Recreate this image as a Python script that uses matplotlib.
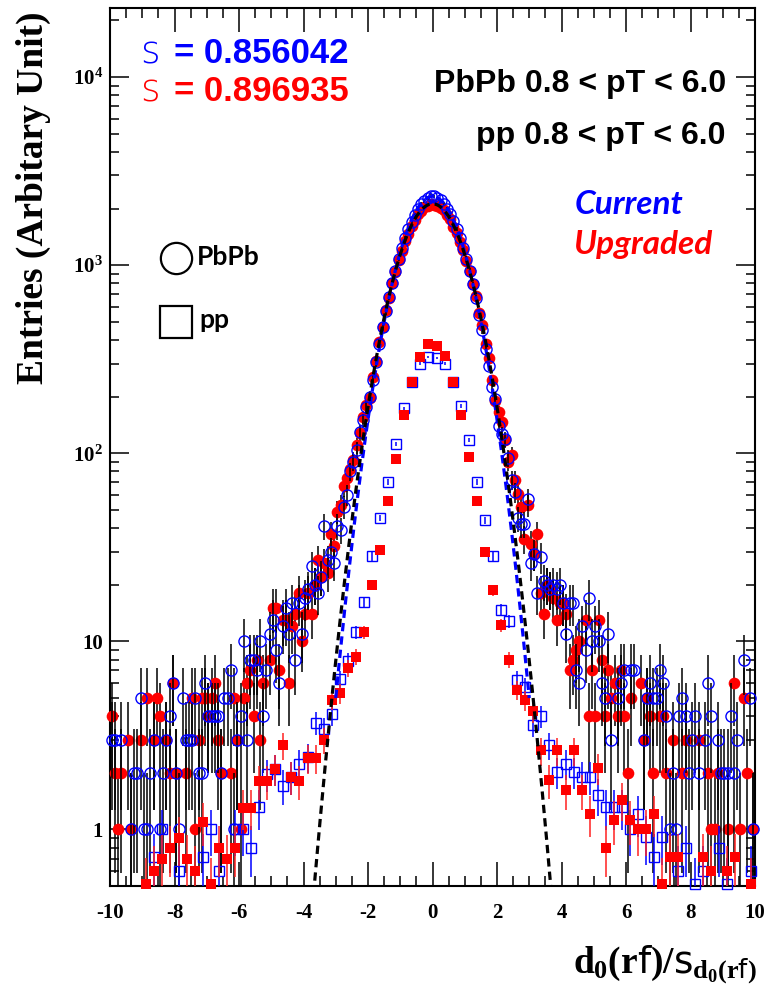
import numpy as np
import matplotlib
matplotlib.use("Agg")
import matplotlib.pyplot as plt
from matplotlib.ticker import FixedLocator, FixedFormatter, MultipleLocator, LogLocator, NullFormatter
from matplotlib.lines import Line2D

plt.rcParams['mathtext.fontset'] = 'custom'
plt.rcParams['mathtext.rm'] = 'Liberation Serif:bold'
plt.rcParams['mathtext.it'] = 'Liberation Serif:bold'
plt.rcParams['mathtext.bf'] = 'Liberation Serif:bold'
plt.rcParams['mathtext.sf'] = 'DejaVu Sans'

# ---------------- data ----------------
x_min, x_max = -10.0, 10.0
pbpb_bin_width = 0.1
pp_bin_width = 0.25

# PbPb, upgraded tracker (red filled circles), 200 bins of 0.1
pbpb_upgraded = [
    4, 2, 1, 2, 0, 3, 1, 0, 0, 3,
    0, 5, 0, 3, 5, 4, 0, 3, 2, 6,
    2, 0, 0, 2, 0, 5, 1, 3, 5, 5,
    4, 5, 6, 3, 2, 0, 0, 2, 5, 3,
    1, 5, 6, 7, 4, 8, 3, 6, 0, 8,
    15, 15, 7, 13, 13, 6, 12, 14, 18, 10,
    14, 18, 14, 20, 27, 22, 26, 23, 37, 32,
    49, 53, 67, 74, 82, 92, 110, 128, 156, 180,
    196, 255, 310, 392, 468, 575, 670, 800, 918, 1065,
    1190, 1350, 1470, 1625, 1730, 1860, 1940, 2030, 2060, 2110,
    2090, 2075, 2010, 1955, 1840, 1750, 1605, 1490, 1330, 1205,
    1050, 930, 790, 685, 560, 480, 380, 320, 245, 190,
    165, 147, 118, 90, 98, 72, 61, 52, 35, 53,
    33, 29, 37, 18, 14, 20, 19, 17, 13, 16,
    16, 14, 7, 8, 9, 10, 0, 13, 4, 7,
    4, 13, 8, 4, 7, 5, 6, 4, 7, 4,
    2, 5, 0, 0, 6, 3, 5, 4, 2, 0,
    4, 4, 2, 0, 3, 0, 0, 2, 3, 0,
    0, 0, 3, 0, 0, 2, 1, 1, 2, 0,
    0, 1, 0, 6, 0, 1, 5, 2, 0, 1,
]

# PbPb, current tracker (blue open circles), 200 bins of 0.1
pbpb_current = [
    3, 3, 0, 3, 0, 0, 1, 2, 2, 5,
    1, 1, 2, 3, 0, 1, 2, 3, 4, 6,
    2, 1, 5, 3, 3, 3, 5, 2, 2, 6,
    4, 4, 4, 4, 2, 5, 5, 7, 1, 3,
    4, 10, 3, 8, 8, 7, 10, 4, 7, 11,
    13, 9, 6, 12, 15, 11, 16, 8, 16, 11,
    17, 19, 25, 20, 18, 22, 41, 27, 30, 26,
    41, 39, 52, 60, 80, 90, 104, 130, 150, 176,
    200, 245, 305, 380, 470, 570, 680, 800, 935, 1080,
    1230, 1390, 1550, 1700, 1850, 1990, 2110, 2200, 2280, 2330,
    2320, 2270, 2210, 2120, 1990, 1860, 1720, 1560, 1400, 1240,
    1080, 935, 790, 665, 545, 450, 360, 290, 225, 195,
    140, 127, 119, 94, 72, 62, 45, 42, 42, 57,
    26, 29, 18, 28, 21, 20, 19, 20, 19, 20,
    16, 11, 16, 16, 7, 6, 12, 9, 17, 10,
    12, 10, 6, 5, 11, 3, 0, 5, 6, 7,
    0, 7, 7, 0, 0, 3, 5, 6, 5, 5,
    7, 6, 4, 1, 2, 1, 4, 5, 4, 2,
    3, 4, 2, 0, 3, 6, 4, 0, 3, 2,
    2, 2, 4, 2, 3, 0, 8, 0, 5, 1,
]

# pp, upgraded (red filled squares), 80 bins of 0.25
pp_upgraded = [
    0, 0, 0, 0, 0.51, 0.60, 0.70, 0.80, 0.90, 0.70,
    0.60, 1.10, 0.51, 0.80, 0.70, 0.80, 1.30, 1.30, 1.80, 1.80,
    2.10, 2.80, 1.90, 1.80, 2.40, 2.40, 3.0, 4.9, 5.3, 7.2,
    8.3, 11.2, 19.9, 30.5, 55.6, 93.7, 159, 240, 325, 383,
    372, 330, 240, 159, 96, 56, 29.8, 18.7, 12.2, 8.0,
    5.5, 4.85, 4.25, 2.63, 1.82, 2.63, 1.61, 2.63, 1.61, 1.21,
    2.13, 0.80, 1.12, 1.43, 1.12, 1.0, 1.0, 1.21, 0.51, 0.71,
    0.71, 0, 0, 0.71, 0.60, 0, 0.60, 0.71, 0, 0.51,
]

# pp, current (blue open squares), 80 bins of 0.25
pp_current = [
    0, 0, 0, 0, 0, 0.71, 1.0, 0, 0.60, 0,
    0, 0.71, 1.0, 0.60, 0, 1.0, 1.0, 0.80, 1.31, 1.96,
    2.1, 1.71, 1.9, 2.24, 2.42, 3.7, 3.4, 4.1, 6.3, 7.9,
    11.2, 16.2, 28.3, 45.3, 70.3, 111.6, 173, 239, 300, 325,
    320, 300, 239, 178, 118, 70.3, 44, 28.3, 14.7, 12.8,
    6.25, 5.7, 3.6, 4.0, 2.8, 2.02, 2.24, 2.02, 1.9, 1.9,
    1.52, 1.31, 1.31, 1.31, 1.0, 1.21, 0.91, 0.71, 0.91, 0,
    0.60, 0.80, 0.51, 0.60, 0, 0.80, 0.51, 0, 0, 0.60,
]

# Gaussian fit results
fit_sigma_current = 0.856042
fit_sigma_upgraded = 0.896935
fit_amp_current = 2320
fit_amp_upgraded = 2120
fit_range_current = 3.0
pp_count_scale = 0.075   # pp histogram was scaled; error = sqrt(value * scale)

x_ticks = [-10, -8, -6, -4, -2, 0, 2, 4, 6, 8, 10]
x_tick_labels = ['-10', '-8', '-6', '-4', '-2', '0', '2', '4', '6', '8', '10']
y_ticks = [1, 10, 100, 1000, 10000]
y_tick_labels = ['1', '10', r'$10^{2}\ \,$', r'$10^{3}\ \,$', r'$10^{4}\ \,$']

# ---------------- figure ----------------
W, H = 765, 1000
fig = plt.figure(figsize=(W / 100, H / 100), dpi=100)
ax = fig.add_axes([110 / W, 1 - 886 / H, 645 / W, 878 / H])
ax.set_yscale('log')
ax.set_xlim(x_min, x_max)
ax.set_ylim(0.5, 23300)


def centers(n, width):
    return x_min + width * (np.arange(n) + 0.5)


def draw_series(vals, width, color, marker, filled, ms, err_color, err_mode, z):
    v = np.asarray(vals, dtype=float)
    x = centers(len(v), width)
    m = v > 0
    x, v = x[m], v[m]
    if err_mode == 'poisson':
        e = np.sqrt(v)
    else:
        e = np.sqrt(v * pp_count_scale)
    lo = np.maximum(v - e, 0.3)
    hi = v + e
    ax.vlines(x, lo, hi, colors=err_color, linewidth=1.1, zorder=z - 0.5)
    if filled:
        ax.plot(x, v, ls='none', marker=marker, ms=ms, mfc=color, mec=color,
                mew=0.0, zorder=z, clip_on=False)
    else:
        ax.plot(x, v, ls='none', marker=marker, ms=ms, mfc='none', mec=color,
                mew=1.0, zorder=z, clip_on=False)


draw_series(pbpb_upgraded, pbpb_bin_width, 'red', 'o', True, 8.4, 'black', 'poisson', 3)
draw_series(pbpb_current, pbpb_bin_width, 'blue', 'o', False, 8.0, 'black', 'poisson', 4)
draw_series(pp_current, pp_bin_width, 'blue', 's', False, 7.2, 'blue', 'scaled', 5)
draw_series(pp_upgraded, pp_bin_width, 'red', 's', True, 7.4, '#ff2020', 'scaled', 6)

# Gaussian fit curves
xf = np.linspace(x_min, x_max, 4001)
xc = xf[np.abs(xf) <= fit_range_current]
ax.plot(xc, fit_amp_current * np.exp(-xc ** 2 / (2 * fit_sigma_current ** 2)),
        color='blue', lw=2.3, ls=(0, (2.6, 1.6)), zorder=7)
ax.plot(xf, fit_amp_upgraded * np.exp(-xf ** 2 / (2 * fit_sigma_upgraded ** 2)),
        color='black', lw=2.3, ls=(0, (2.6, 1.6)), zorder=8)

# ---------------- axes styling ----------------
for s in ax.spines.values():
    s.set_linewidth(1.5)
ax.xaxis.set_major_locator(FixedLocator(x_ticks))
ax.xaxis.set_major_formatter(FixedFormatter(x_tick_labels))
ax.xaxis.set_minor_locator(MultipleLocator(0.5))
ax.yaxis.set_major_locator(FixedLocator(y_ticks))
ax.yaxis.set_major_formatter(FixedFormatter(y_tick_labels))
ax.yaxis.set_minor_locator(LogLocator(base=10, subs=np.arange(2, 10)))
ax.yaxis.set_minor_formatter(NullFormatter())
ax.tick_params(which='both', direction='in', top=True, right=True, width=1.1)
ax.tick_params(axis='x', which='major', length=17, pad=12)
ax.tick_params(axis='x', which='minor', length=7.5)
ax.tick_params(axis='y', which='major', length=13.5, pad=5)
ax.tick_params(axis='y', which='minor', length=6.5)
for lab in ax.get_xticklabels() + ax.get_yticklabels():
    lab.set_fontfamily('Liberation Serif')
    lab.set_fontweight('bold')
    lab.set_fontsize(15)


def T(px, py, s, **kw):
    fig.text(px / W, 1 - py / H, s, **kw)


# sigma values
T(140, 63, 's', color='blue', fontsize=27, family='DejaVu Sans', weight='light', va='baseline')
T(174, 63, '= 0.856042', color='blue', fontsize=25, family='Liberation Sans', weight='bold', va='baseline')
T(140, 101, 's', color='red', fontsize=27, family='DejaVu Sans', weight='light', va='baseline')
T(174, 101, '= 0.896935', color='red', fontsize=25, family='Liberation Sans', weight='bold', va='baseline')

# kinematic ranges
T(726, 92, 'PbPb 0.8 < pT < 6.0', color='black', fontsize=23, family='Liberation Sans',
  weight='bold', ha='right', va='baseline')
T(726, 144, 'pp 0.8 < pT < 6.0', color='black', fontsize=23, family='Liberation Sans',
  weight='bold', ha='right', va='baseline')

# Current / Upgraded
T(575, 214, 'Current', color='blue', fontsize=24, family='Lato', weight='bold',
  style='italic', va='baseline')
T(573, 254, 'Upgraded', color='red', fontsize=24, family='Lato', weight='bold',
  style='italic', va='baseline')

# marker legend
fig.add_artist(Line2D([176 / W], [1 - 258 / H], marker='o', ms=22.5, mfc='none', mec='black',
                      mew=1.6, ls='none', transform=fig.transFigure))
fig.add_artist(Line2D([176 / W], [1 - 322 / H], marker='s', ms=22.5, mfc='none', mec='black',
                      mew=1.6, ls='none', transform=fig.transFigure))
T(197, 265, 'PbPb', color='black', fontsize=19, family='Lato', weight='bold', va='baseline')
T(199, 328, 'pp', color='black', fontsize=19, family='Lato', weight='bold', va='baseline')

# axis titles
T(33, 198, 'Entries (Arbitary Unit)', rotation=90, ha='center', va='center',
  fontsize=27, family='Liberation Serif', weight='bold')
T(757, 972, r'$d_0(r\mathsf{f})/\mathsf{s}_{d_0(r\mathsf{f})}$', ha='right', va='baseline',
  fontsize=27)

fig.savefig('out.png', dpi=100)
